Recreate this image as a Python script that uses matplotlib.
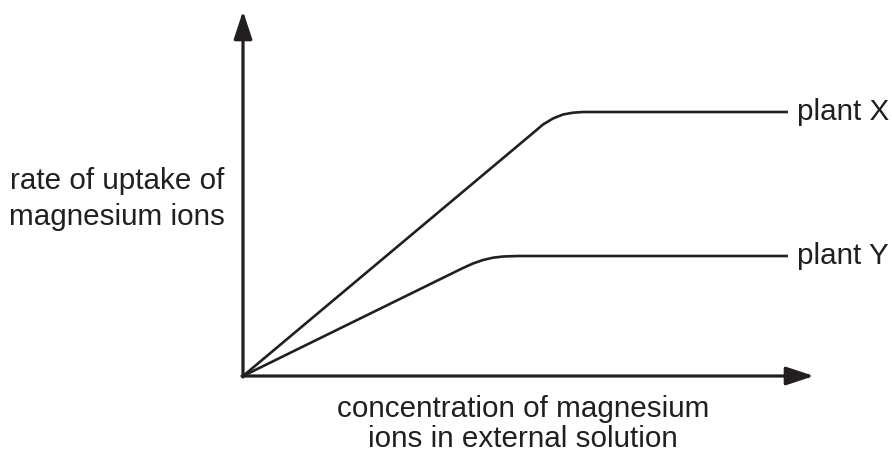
import matplotlib
matplotlib.use("Agg")
import matplotlib.pyplot as plt

# Data (units: relative to origin; x = concentration, y = rate of uptake)
plant_x_conc = [0, 290, 300, 310, 320, 330, 340, 350, 545]
plant_x_rate = [0, 243, 251.5, 257.5, 261.5, 263.3, 264, 264, 264]
plant_y_conc = [0, 220, 230, 240, 250, 260, 275, 545]
plant_y_rate = [0, 108, 112.5, 116, 118.3, 119.5, 120, 120]
series_labels = ["plant X", "plant Y"]
y_label = "rate of uptake of\nmagnesium ions"
x_label = "concentration of magnesium\nions in external solution"

ink = "#231f20"
plt.rcParams['font.family'] = ['Liberation Sans', 'DejaVu Sans']

fig = plt.figure(figsize=(8.92, 4.51), dpi=100)
ax = fig.add_axes([0, 0, 1, 1])
ax.set_xlim(-243, 892 - 243)
ax.set_ylim(376 - 451, 376)
ax.axis('off')

# axes with arrows
arrow_kw = dict(arrowstyle='-|>,head_length=0.85,head_width=0.28', lw=2.3,
                color=ink, mutation_scale=20, shrinkA=0, shrinkB=0)
ax.annotate('', xy=(571, 0), xytext=(-1, 0), arrowprops=arrow_kw)
ax.annotate('', xy=(0, 365), xytext=(0, -1), arrowprops=arrow_kw)

ax.plot(plant_x_conc, plant_x_rate, color=ink, lw=1.9, solid_capstyle='butt')
ax.plot(plant_y_conc, plant_y_rate, color=ink, lw=1.9, solid_capstyle='butt')

fs = 21.3
ax.text(plant_x_conc[-1] + 9, plant_x_rate[-1], series_labels[0], fontsize=fs,
        va='center', ha='left', color=ink)
ax.text(plant_y_conc[-1] + 9, plant_y_rate[-1], series_labels[1], fontsize=fs,
        va='center', ha='left', color=ink)

ax.text(117 - 243, 376 - 199, y_label, fontsize=fs, ha='center', va='center',
        color=ink, linespacing=1.39)
ax.text(523 - 243, 376 - 424, x_label, fontsize=fs, ha='center', va='center',
        color=ink, linespacing=1.05)

fig.savefig("out.png", dpi=100)
